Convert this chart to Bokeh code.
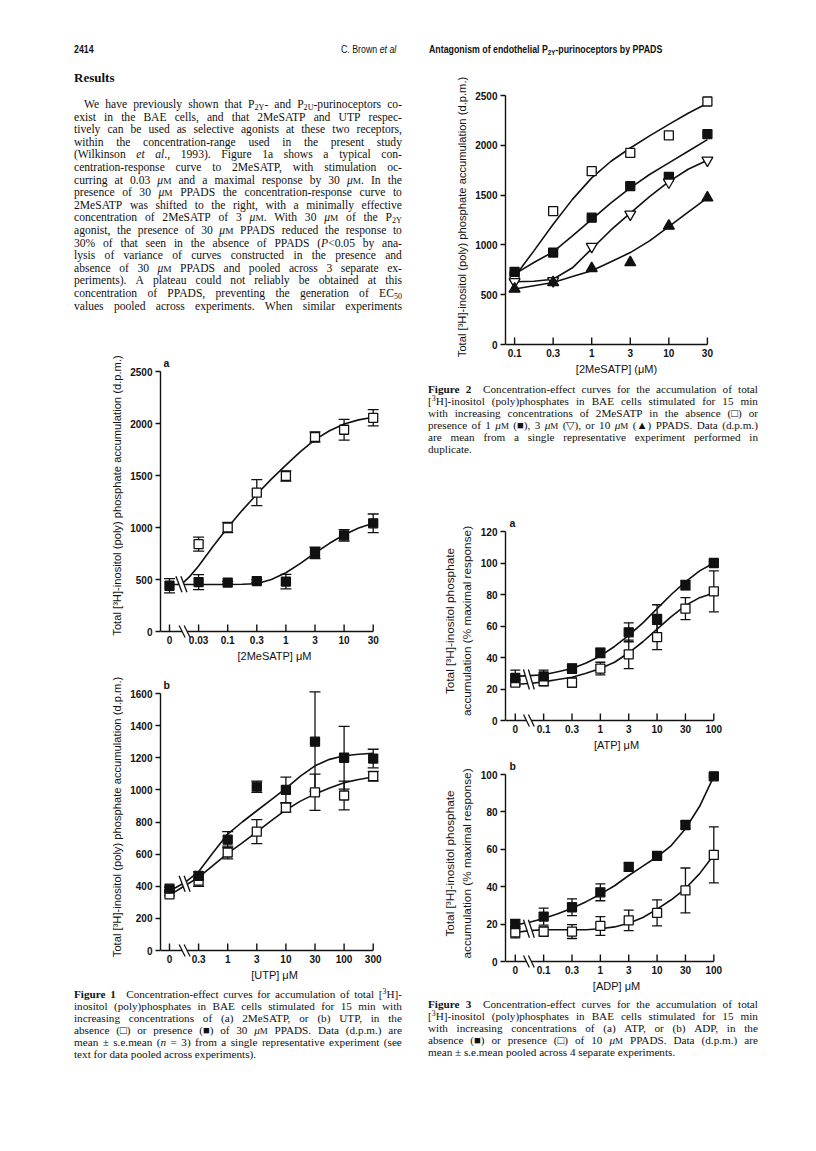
from bokeh.plotting import figure
from bokeh.models import Range1d, FixedTicker, Div, Whisker, ColumnDataSource, TeeHead
from bokeh.layouts import column, row
from bokeh.embed import file_html
from bokeh.resources import INLINE
from bokeh.core.properties import value

# ------------------------------------------------------------------ DATA
# Figure 1a : 2MeSATP, absence (open) / presence (filled) of 30 uM PPADS
fig1a_conc = ["0", "0.03", "0.1", "0.3", "1", "3", "10", "30"]
fig1a_open_conc = ["0.03", "0.1", "0.3", "1", "3", "10", "30"]
fig1a_open_mean = [840, 1000, 1335, 1495, 1870, 1940, 2055]
fig1a_open_sem = [67, 50, 125, 50, 50, 100, 78]
fig1a_fill_conc = ["0", "0.03", "0.1", "0.3", "1", "3", "10", "30"]
fig1a_fill_mean = [440, 475, 470, 485, 480, 755, 925, 1040]
fig1a_fill_sem = [68, 72, 12, 12, 70, 55, 55, 90]
fig1a_open_fit_at = [0.42, 0.7, 1, 1.5, 2, 2.5, 3, 3.5, 4, 4.5, 5, 5.5, 6, 6.5, 7]
fig1a_open_fit = [455, 530, 630, 820, 1000, 1165, 1320, 1465, 1600, 1730, 1845, 1930, 1995, 2035, 2060]
fig1a_fill_fit_at = [0, 0.5, 1, 1.5, 2, 2.5, 3, 3.5, 4, 4.5, 5, 5.5, 6, 6.5, 7]
fig1a_fill_fit = [452, 452, 452, 452, 452, 454, 460, 500, 565, 655, 755, 848, 930, 995, 1040]

# Figure 1b : UTP
fig1b_conc = ["0", "0.3", "1", "3", "10", "30", "100", "300"]
fig1b_fill_mean = [385, 465, 690, 1020, 1000, 1300, 1200, 1195]
fig1b_fill_sem = [10, 25, 50, 35, 80, 310, 195, 58]
fig1b_open_mean = [350, 435, 610, 740, 890, 985, 965, 1085]
fig1b_open_sem = [10, 35, 40, 75, 28, 113, 90, 30]
fig1b_fit_at = [0, 0.5, 1, 1.5, 2, 2.5, 3, 3.5, 4, 4.5, 5, 5.5, 6, 6.5, 7]
fig1b_fill_fit = [370, 420, 490, 610, 725, 800, 870, 940, 1010, 1085, 1150, 1190, 1212, 1222, 1228]
fig1b_open_fit = [345, 400, 455, 530, 605, 670, 738, 808, 875, 930, 975, 1012, 1045, 1065, 1080]

# Figure 2 : 2MeSATP with 0, 1, 3, 10 uM PPADS
fig2_conc = ["0.1", "0.3", "1", "3", "10", "30"]
fig2_none = [685, 1340, 1740, 1923, 2100, 2440]
fig2_pp1 = [730, 923, 1273, 1590, 1683, 2113]
fig2_pp3 = [630, 640, 983, 1307, 1630, 1850]
fig2_pp10 = [557, 623, 763, 823, 1190, 1473]
fig2_fit_at = [0, 0.5, 1, 1.5, 2, 2.5, 3, 3.5, 4, 4.5, 5]
fig2_none_fit = [680, 940, 1207, 1457, 1673, 1840, 1973, 2095, 2210, 2322, 2423]
fig2_pp1_fit = [707, 823, 930, 1090, 1257, 1423, 1573, 1707, 1823, 1940, 2057]
fig2_pp3_fit = [630, 635, 655, 770, 960, 1150, 1320, 1485, 1635, 1760, 1850]
fig2_pp10_fit = [557, 590, 623, 683, 740, 830, 923, 1040, 1183, 1330, 1473]

# Figure 3a : ATP
fig3_conc = ["0", "0.1", "0.3", "1", "3", "10", "30", "100"]
fig3a_fill_mean = [27, 28, 33, 43, 56, 64.5, 86, 100]
fig3a_fill_sem = [5, 4, 3, 3, 6, 9, 3, 1]
fig3a_open_mean = [24, 25, 24, 33, 42, 53, 71, 82]
fig3a_open_sem = [2, 3, 3, 4, 9, 8, 7, 13]
fig3_fit_at = [0, 0.5, 1, 1.5, 2, 2.5, 3, 3.5, 4, 4.5, 5, 5.5, 6, 6.5, 7]
fig3a_fill_fit = [28, 28.5, 29, 31, 33, 36.5, 41, 47, 54, 62, 71, 80, 88, 95, 100]
fig3a_open_fit = [23, 23.5, 24.5, 26, 27.5, 30, 33, 37, 43, 50, 58, 66, 73, 78, 81]

# Figure 3b : ADP
fig3b_fill_mean = [20, 24, 29, 37, 50.6, 56.5, 73, 99]
fig3b_fill_sem = [2.5, 4.5, 4.5, 4.5, 2.3, 2, 2, 0.5]
fig3b_open_mean = [15.6, 16, 16, 19, 22, 26, 38, 57]
fig3b_open_sem = [3, 2.5, 3.7, 5, 5.5, 7, 12, 15]
fig3b_fill_fit = [19.5, 21, 23, 25.5, 28.5, 32, 36, 40.5, 46, 51, 56, 62, 71, 83, 99]
fig3b_open_fit = [15.5, 16.5, 17, 17, 17, 17, 17.5, 18.5, 20.5, 23.5, 28, 33, 39, 47, 57]

fig1a_yticks = [0, 500, 1000, 1500, 2000, 2500]
fig1b_yticks = [0, 200, 400, 600, 800, 1000, 1200, 1400, 1600]
fig2_yticks = [0, 500, 1000, 1500, 2000, 2500]
fig3a_yticks = [0, 20, 40, 60, 80, 100, 120]
fig3b_yticks = [0, 20, 40, 60, 80, 100]

YT_DPM = "Total [³H]-inositol (poly) phosphate accumulation (d.p.m.)"
YT_PCT = "Total [³H]-inositol phosphate\naccumulation (% maximal response)"

SANS = "Liberation Sans"
SERIF = "Liberation Serif"
INK = "#111111"

# ------------------------------------------------------------------ PANELS
def make_panel(fx, fy, W, H, axis_px, cat0_px, step_px, right_px, zero_px, ytop_px,
               frame_top_px, labels, yticks, xtitle, ytitle, ytitle_size):
    pad = 7
    mbl = int(round(axis_px - fx))
    mbr = int(round(fx + W - right_px))
    mbt = int(round(frame_top_px - fy))
    mbb = int(round(fy + H - (zero_px + pad)))
    fl, fr, ft, fb = fx + mbl, fx + W - mbr, fy + mbt, fy + H - mbb
    k = (zero_px - ytop_px) / yticks[-1]
    xs, xe = (fl - cat0_px) / step_px, (fr - cat0_px) / step_px
    ys, ye = (zero_px - fb) / k, (zero_px - ft) / k
    p = figure(width=W, height=H, x_range=Range1d(xs, xe), y_range=Range1d(ys, ye),
               output_backend="svg", toolbar_location=None,
               min_border_left=mbl, min_border_right=mbr,
               min_border_top=mbt, min_border_bottom=mbb)
    p.outline_line_color = None
    p.grid.visible = False
    p.background_fill_color = "white"
    p.border_fill_color = "white"
    xa = p.xaxis[0]
    xa.ticker = FixedTicker(ticks=list(range(len(labels))))
    xa.major_label_overrides = {i: lab for i, lab in enumerate(labels)}
    xa.axis_line_color = None
    xa.major_tick_line_color = None
    xa.minor_tick_line_color = None
    xa.major_tick_in = 0
    xa.major_tick_out = 0
    xa.major_label_standoff = -3
    xa.major_label_text_font = SANS
    xa.major_label_text_font_size = "10px"
    xa.major_label_text_font_style = "bold"
    xa.major_label_text_color = INK
    xa.axis_label = xtitle
    xa.axis_label_text_font = SANS
    xa.axis_label_text_font_size = "11px"
    xa.axis_label_text_font_style = "normal"
    xa.axis_label_text_color = INK
    xa.axis_label_standoff = 3
    ya = p.yaxis[0]
    ya.ticker = FixedTicker(ticks=yticks)
    ya.bounds = (0, yticks[-1])
    ya.axis_line_width = 1.4
    ya.axis_line_color = INK
    ya.major_tick_out = 5
    ya.major_tick_in = 0
    ya.major_tick_line_width = 1.4
    ya.major_tick_line_color = INK
    ya.minor_tick_line_color = None
    ya.major_label_standoff = 3
    ya.major_label_text_font = SANS
    ya.major_label_text_font_size = "10px"
    ya.major_label_text_font_style = "bold"
    ya.major_label_text_color = INK
    ya.axis_label = ytitle
    ya.axis_label_text_font = SANS
    ya.axis_label_text_font_size = ytitle_size
    ya.axis_label_text_font_style = "normal"
    ya.axis_label_text_color = INK
    ya.axis_label_standoff = 4
    geo = dict(xs=xs, n=len(labels), px_x=1.0 / step_px, px_y=1.0 / k,
               cat0=cat0_px, step=step_px, zero=zero_px, k=k)
    return p, geo


def draw_xaxis(p, g):
    n = g["n"]
    p.segment(x0=[g["xs"]], y0=[0], x1=[n - 1], y1=[0], line_width=1.4, line_color=INK)
    p.segment(x0=list(range(n)), y0=[0] * n, x1=list(range(n)), y1=[7 * g["px_y"]] * n,
              line_width=1.4, line_color=INK)


def draw_break(p, g, xb, yb, h):
    gx, d, hy = 2.5 * g["px_x"], 3 * g["px_x"], h * g["px_y"]
    p.patch(x=[xb - gx - d, xb + gx - d, xb + gx + d, xb - gx + d],
            y=[yb + hy, yb + hy, yb - hy, yb - hy], fill_color="white", line_color=None)
    p.segment(x0=[xb - gx - d, xb + gx - d], y0=[yb + hy] * 2,
              x1=[xb - gx + d, xb + gx + d], y1=[yb - hy] * 2,
              line_width=1.3, line_color=INK)


def draw_letter(p, g, letter, lx, ly):
    p.text(x=[(lx - g["cat0"]) / g["step"]], y=[(g["zero"] - ly) / g["k"]], text=[letter],
           text_font=value(SANS), text_font_style="bold", text_font_size="10.5px",
           text_align="left", text_baseline="middle", text_color=INK)


def draw_fit(p, at, vals):
    p.line(at, vals, line_width=1.6, line_color=INK)


def draw_series(p, labels, conc, mean, sem, marker, fill, size=9, cap=11):
    xs = [labels.index(c) for c in conc]
    if sem is not None:
        src = ColumnDataSource(dict(x=xs, upper=[m + s for m, s in zip(mean, sem)],
                                    lower=[m - s for m, s in zip(mean, sem)]))
        w = Whisker(source=src, base="x", upper="upper", lower="lower", dimension="height",
                    line_width=1.3, line_color=INK, level="underlay",
                    upper_head=TeeHead(size=cap, line_width=1.3, line_color=INK),
                    lower_head=TeeHead(size=cap, line_width=1.3, line_color=INK))
        p.add_layout(w)
    p.scatter(xs, mean, marker=marker, size=size, fill_color=fill, line_color=INK,
              line_width=1.3)


# ---- Fig 1a
p1a, g1a = make_panel(8, 340, 410, 332, 168, 177, 29.1, 396, 639, 379, 360,
                      fig1a_conc, fig1a_yticks, "[2MeSATP] μM", YT_DPM, "11.2px")
draw_fit(p1a, fig1a_open_fit_at, fig1a_open_fit)
draw_fit(p1a, fig1a_fill_fit_at, fig1a_fill_fit)
draw_xaxis(p1a, g1a)
draw_series(p1a, fig1a_conc, fig1a_open_conc, fig1a_open_mean, fig1a_open_sem, "square", "white")
draw_series(p1a, fig1a_conc, fig1a_fill_conc, fig1a_fill_mean, fig1a_fill_sem, "square", INK)
draw_break(p1a, g1a, 0.52, 0, 6)
draw_break(p1a, g1a, 0.41, 455, 8)
draw_letter(p1a, g1a, "a", 171, 370)

# ---- Fig 1b
p1b, g1b = make_panel(8, 672, 410, 324, 168, 177, 29.1, 396, 958, 701, 684,
                      fig1b_conc, fig1b_yticks, "[UTP] μM", YT_DPM, "11.2px")
draw_fit(p1b, fig1b_fit_at, fig1b_fill_fit)
draw_fit(p1b, fig1b_fit_at, fig1b_open_fit)
draw_xaxis(p1b, g1b)
draw_series(p1b, fig1b_conc, fig1b_conc, fig1b_open_mean, fig1b_open_sem, "square", "white")
draw_series(p1b, fig1b_conc, fig1b_conc, fig1b_fill_mean, fig1b_fill_sem, "square", INK)
draw_break(p1b, g1b, 0.52, 0, 6)
draw_break(p1b, g1b, 0.52, 415, 8)
draw_letter(p1b, g1b, "b", 171, 692)

# ---- Fig 2
p2, g2 = make_panel(418, 74, 390, 313, 503, 512.5, 40.3, 735, 352, 103, 90,
                    fig2_conc, fig2_yticks, "[2MeSATP] (μM)", YT_DPM, "11.2px")
draw_fit(p2, fig2_fit_at, fig2_none_fit)
draw_fit(p2, fig2_fit_at, fig2_pp1_fit)
draw_fit(p2, fig2_fit_at, fig2_pp3_fit)
draw_fit(p2, fig2_fit_at, fig2_pp10_fit)
draw_xaxis(p2, g2)
draw_series(p2, fig2_conc, fig2_conc, fig2_none, None, "square", "white")
draw_series(p2, fig2_conc, fig2_conc, fig2_pp1, None, "square", INK)
draw_series(p2, fig2_conc, fig2_conc, fig2_pp3, None, "inverted_triangle", "white", size=11)
draw_series(p2, fig2_conc, fig2_conc, fig2_pp10, None, "triangle", INK, size=11)

# ---- Fig 3a
p3a, g3a = make_panel(418, 470, 390, 294, 513, 523, 29.0, 740, 728, 539, 522,
                      fig3_conc, fig3a_yticks, "[ATP] μM", YT_PCT, "11.8px")
draw_fit(p3a, fig3_fit_at, fig3a_fill_fit)
draw_fit(p3a, fig3_fit_at, fig3a_open_fit)
draw_xaxis(p3a, g3a)
draw_series(p3a, fig3_conc, fig3_conc, fig3a_open_mean, fig3a_open_sem, "square", "white", cap=10)
draw_series(p3a, fig3_conc, fig3_conc, fig3a_fill_mean, fig3a_fill_sem, "square", INK, cap=10)
draw_break(p3a, g3a, 0.48, 0, 6)
draw_break(p3a, g3a, 0.48, 26, 10)
draw_letter(p3a, g3a, "a", 517, 530)

# ---- Fig 3b
p3b, g3b = make_panel(418, 764, 390, 241, 513, 523, 29.0, 740, 969, 782, 766,
                      fig3_conc, fig3b_yticks, "[ADP] μM", YT_PCT, "11.8px")
draw_fit(p3b, fig3_fit_at, fig3b_fill_fit)
draw_fit(p3b, fig3_fit_at, fig3b_open_fit)
draw_xaxis(p3b, g3b)
draw_series(p3b, fig3_conc, fig3_conc, fig3b_open_mean, fig3b_open_sem, "square", "white", cap=10)
draw_series(p3b, fig3_conc, fig3_conc, fig3b_fill_mean, fig3b_fill_sem, "square", INK, cap=10)
draw_break(p3b, g3b, 0.48, 0, 6)
draw_break(p3b, g3b, 0.48, 17.5, 9)
draw_letter(p3b, g3b, "b", 517, 773)

# ------------------------------------------------------------------ TEXT
MU_HTML = '<i>μ</i><span style="font-size:80%">M</span>'
STYLE = ("<style>sub{font-size:70%;line-height:0;vertical-align:-0.3em}"
         "sup{font-size:70%;line-height:0;vertical-align:0.45em}</style>")

header_items = [
    ("<b>2414</b>", 82),
    ("C. Brown <i>et al</i>", 349),
    ("<b>Antagonism of endothelial P<sub>2Y</sub>-purinoceptors by PPADS</b>", 437),
]

results_title = "Results"
para_lines = [
    "We have previously shown that P<sub>2Y</sub>- and P<sub>2U</sub>-purinoceptors co-",
    "exist in the BAE cells, and that 2MeSATP and UTP respec-",
    "tively can be used as selective agonists at these two receptors,",
    "within the concentration-range used in the present study",
    "(Wilkinson <i>et</i> <i>al</i>., 1993). Figure 1a shows a typical con-",
    "centration-response curve to 2MeSATP, with stimulation oc-",
    "curring at 0.03 μM and a maximal response by 30 μM. In the",
    "presence of 30 μM PPADS the concentration-response curve to",
    "2MeSATP was shifted to the right, with a minimally effective",
    "concentration of 2MeSATP of 3 μM. With 30 μM of the P<sub>2Y</sub>",
    "agonist, the presence of 30 μM PPADS reduced the response to",
    "30% of that seen in the absence of PPADS (<i>P</i>&lt;0.05 by ana-",
    "lysis of variance of curves constructed in the presence and",
    "absence of 30 μM PPADS and pooled across 3 separate ex-",
    "periments). A plateau could not reliably be obtained at this",
    "concentration of PPADS, preventing the generation of EC<sub>50</sub>",
    "values pooled across experiments. When similar experiments",
]

cap1_lines = [
    "<b>Figure</b> <b>1</b>&ensp; Concentration-effect curves for accumulation of total [<sup>3</sup>H]-",
    "inositol (poly)phosphates in BAE cells stimulated for 15 min with",
    "increasing concentrations of (a) 2MeSATP, or (b) UTP, in the",
    "absence (□) or presence (■) of 30 μM PPADS. Data (d.p.m.) are",
    "mean ± s.e.mean (<i>n</i> = 3) from a single representative experiment (see",
    "text for data pooled across experiments).",
]
cap2_lines = [
    "<b>Figure</b> <b>2</b>&ensp; Concentration-effect curves for the accumulation of total",
    "[<sup>3</sup>H]-inositol (poly)phosphates in BAE cells stimulated for 15 min",
    "with increasing concentrations of 2MeSATP in the absence (□) or",
    "presence of 1 μM (■), 3 μM (▽), or 10 μM (▲) PPADS. Data (d.p.m.)",
    "are mean from a single representative experiment performed in",
    "duplicate.",
]
cap3_lines = [
    "<b>Figure</b> <b>3</b>&ensp; Concentration-effect curves for the accumulation of total",
    "[<sup>3</sup>H]-inositol (poly)phosphates in BAE cells stimulated for 15 min",
    "with increasing concentrations of (a) ATP, or (b) ADP, in the",
    "absence (■) or presence (□) of 10 μM PPADS. Data (d.p.m.) are",
    "mean ± s.e.mean pooled across 4 separate experiments.",
]


def line_html(raw, width, just):
    words = [w.replace("μM", MU_HTML) for w in raw.split(" ")]
    if just:
        spans = "".join(f"<span>{w}</span>" for w in words)
        return (f'<div style="display:flex;justify-content:space-between;white-space:nowrap;'
                f'width:{width}px">{spans}</div>')
    return f'<div style="white-space:nowrap">{" ".join(words)}</div>'


def text_div(fx, fy, W, H, items, font=SERIF, size="11.6px"):
    parts = [STYLE,
             f'<div style="position:relative;width:{W}px;height:{H}px;font-family:\'{font}\';'
             f'font-size:{size};color:{INK};">']
    for raw, lx, cy, w, just, extra in items:
        parts.append(f'<div style="position:absolute;left:{lx - fx:.1f}px;top:{cy - fy - 7:.1f}px;'
                     f'width:{w}px;height:14px;line-height:14px;{extra}">{line_html(raw, w, just)}</div>')
    parts.append("</div>")
    return Div(text="".join(parts), width=W, height=H, margin=(0, 0, 0, 0))


hdr_parts = [STYLE, f'<div style="position:relative;width:800px;height:66px;'
                    f'font-family:\'{SANS}\';font-size:11px;color:{INK};">']
for t, x in header_items:
    hdr_parts.append(f'<div style="position:absolute;left:{x - 8}px;top:{57 - 8 - 7}px;height:14px;'
                     f'line-height:14px;white-space:nowrap;transform:scaleX(0.8);'
                     f'transform-origin:left center">{t}</div>')
hdr_parts.append("</div>")
header = Div(text="".join(hdr_parts), width=800, height=66, margin=(0, 0, 0, 0))

res_items = [(f"<b>{results_title}</b>", 82, 86, 300, False, "font-size:13px;")]
for i, ln in enumerate(para_lines):
    ind = 10 if i == 0 else 0
    res_items.append((ln, 82 + ind, 113 + 12.6 * i, 328 - ind, True, ""))
results = text_div(8, 74, 410, 266, res_items)

cap1 = text_div(8, 996, 410, 84,
                [(ln, 82, 1002 + 12 * i, 328, i < len(cap1_lines) - 1, "")
                 for i, ln in enumerate(cap1_lines)], size="11.2px")
cap2 = text_div(418, 387, 390, 83,
                [(ln, 436, 397 + 12 * i, 330, i < len(cap2_lines) - 1, "")
                 for i, ln in enumerate(cap2_lines)], size="11.2px")
cap3 = text_div(418, 1005, 390, 70,
                [(ln, 436, 1012 + 12 * i, 330, i < len(cap3_lines) - 1, "")
                 for i, ln in enumerate(cap3_lines)], size="11.2px")

left = column(results, p1a, p1b, cap1)
right = column(p2, cap2, p3a, p3b, cap3)
page = column(header, row(left, right))

open("out.html", "w").write(file_html(page, INLINE))
